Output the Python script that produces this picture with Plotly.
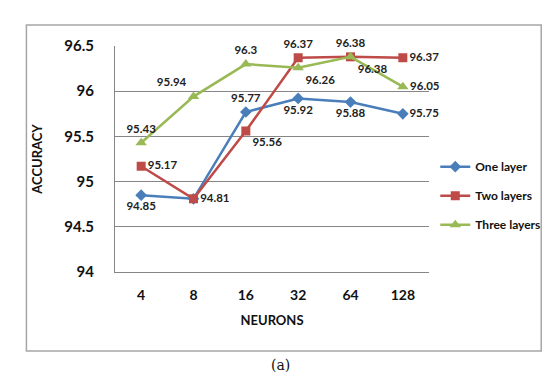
import plotly.graph_objects as go

neurons = ["4", "8", "16", "32", "64", "128"]
one_layer = [94.85, 94.81, 95.77, 95.92, 95.88, 95.75]
two_layers = [95.17, 94.81, 95.56, 96.37, 96.38, 96.37]
three_layers = [95.43, 95.94, 96.3, 96.26, 96.38, 96.05]
y_ticks = [94, 94.5, 95, 95.5, 96, 96.5]
y_tick_text = ["94", "94.5", "95", "95.5", "96", "96.5"]

one_labels = ["94.85", "", "95.77", "95.92", "95.88", "95.75"]
two_labels = ["95.17", "94.81", "95.56", "96.37", "96.38", "96.37"]
three_labels = ["95.43", "95.94", "96.3", "96.26", "96.38", "96.05"]

one_pos = ["bottom center", "middle right", "top center", "bottom center", "bottom center", "middle right"]
two_pos = ["middle right", "middle right", "bottom right", "top center", "top center", "middle right"]
three_pos = ["top center", "top left", "top center", "bottom right", "bottom right", "middle right"]

FONT = "Lato"
lab_font = dict(family=FONT, size=11.5, color="#222222", weight="bold")

fig = go.Figure()
fig.add_trace(go.Scatter(
    x=neurons, y=one_layer, name="One layer", mode="lines+markers+text",
    legendgroup="a",
    line=dict(color="#4a7ebb", width=2.5),
    marker=dict(symbol="diamond", size=9, color="#4a7ebb"),
    text=one_labels, textposition=one_pos, textfont=lab_font, cliponaxis=False,
))
fig.add_trace(go.Scatter(
    x=neurons, y=two_layers, name="Two layers", mode="lines+markers+text",
    legendgroup="b",
    line=dict(color="#be4b48", width=2.5),
    marker=dict(symbol="square", size=9, color="#be4b48"),
    text=two_labels, textposition=two_pos, textfont=lab_font, cliponaxis=False,
))
fig.add_trace(go.Scatter(
    x=neurons, y=three_layers, name="Three layers", mode="lines+markers+text",
    legendgroup="c",
    line=dict(color="#98b954", width=2.5),
    marker=dict(symbol="triangle-up", size=10, color="#98b954"),
    text=three_labels, textposition=three_pos, textfont=lab_font, cliponaxis=False,
))

fig.update_layout(
    width=550, height=387,
    margin=dict(l=107, r=124, t=38, b=123),
    paper_bgcolor="white", plot_bgcolor="white",
    font=dict(family=FONT, color="#111111"),
    showlegend=True,
    legend=dict(x=1.02, y=0.53, xanchor="left", yanchor="top",
                font=dict(family=FONT, size=12, color="#111111", weight="bold"),
                bgcolor="rgba(0,0,0,0)", tracegroupgap=10, itemwidth=30,
                traceorder="grouped"),
    xaxis=dict(
        type="category", range=[-0.5, 5.5],
        showgrid=False, showline=True, linecolor="#868686", linewidth=1,
        ticks="", tickfont=dict(family=FONT, size=14, color="#111111", weight="bold"),
        ticklabelstandoff=10,
        title=dict(text="NEURONS", font=dict(family=FONT, size=13, color="#111111", weight="bold"), standoff=14),
    ),
    yaxis=dict(
        range=[94, 96.5], tickvals=y_ticks, ticktext=y_tick_text,
        showgrid=True, gridcolor="#868686", gridwidth=1,
        showline=True, linecolor="#868686", linewidth=1, zeroline=False,
        ticks="", tickfont=dict(family=FONT, size=15, color="#111111", weight="bold"),
        ticklabelstandoff=17,
        title=dict(text="ACCURACY", font=dict(family=FONT, size=13, color="#111111", weight="bold"), standoff=18),
    ),
)

fig.add_shape(type="rect", xref="paper", yref="paper",
              x0=-90 / 319, x1=(540 - 107) / 319, y0=-(343 - 264) / 226, y1=(264 - 17) / 226,
              line=dict(color="#a6a6a6", width=1.5), fillcolor="rgba(0,0,0,0)", layer="below")

fig.add_annotation(text="(a)", xref="paper", yref="paper",
                   x=(275 - 107) / 319, y=-(367 - 264) / 226, showarrow=False,
                   font=dict(family="DejaVu Serif", size=14, color="#111111"))

fig.write_html("out.html")
